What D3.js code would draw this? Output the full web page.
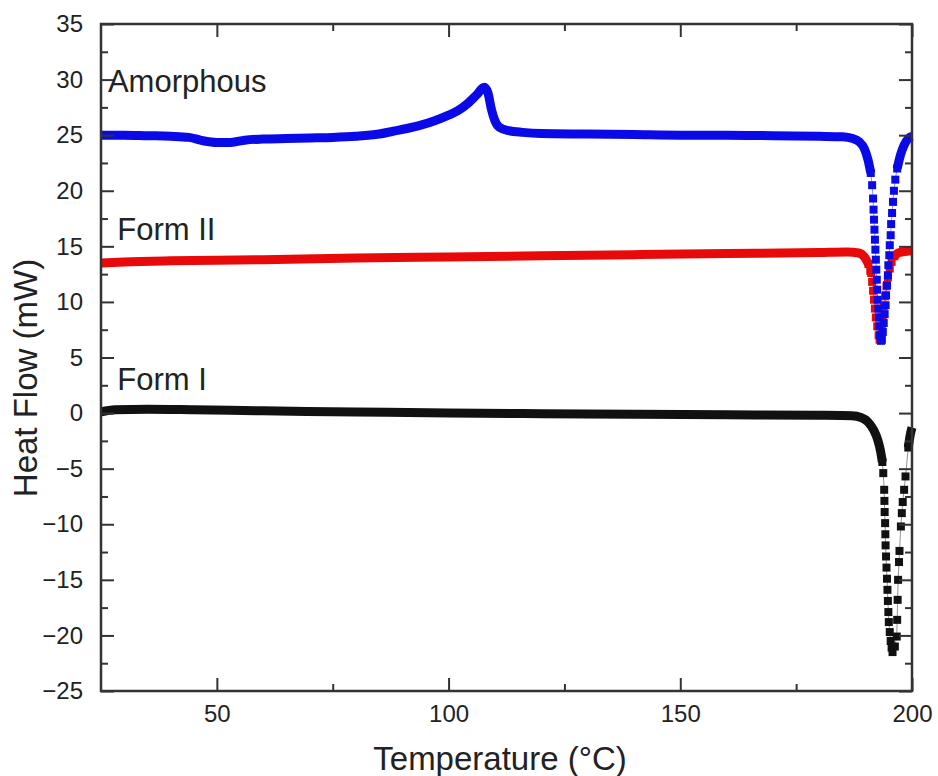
<!DOCTYPE html>
<html>
<head>
<meta charset="utf-8">
<script src="https://cdn.jsdelivr.net/npm/d3@7"></script>
<style>
  body { margin: 0; background: #fff; }
  text { font-family: "Liberation Sans", Arial, sans-serif; }
</style>
</head>
<body>
<div id="chart"></div>
<script>
// x ticks / y ticks
var xTicks = [50, 100, 150, 200];
var xMinorTicks = [75, 125, 175];
var yTicks = [35, 30, 25, 20, 15, 10, 5, 0, -5, -10, -15, -20, -25];

// Amorphous: smooth part (null = gap where the peak points are)
var amorphousTemp = [25, 30, 35, 40, 44, 47, 50, 53, 56, 60, 65, 70, 75, 80, 85, 88, 91, 94, 97, 100, 102, 104, 106, 107.7, 108.5, 109.2, 110, 111, 113, 116, 120, 130, 140, 150, 160, 170, 180, 185, 187.2, 188.6, 189.7, 190.5, 191.1, null, 196.8, 197.5, 198.3, 199.2, 200];
var amorphousFlow = [25.0, 25.0, 24.95, 24.9, 24.8, 24.5, 24.35, 24.35, 24.55, 24.65, 24.7, 24.75, 24.8, 24.9, 25.1, 25.35, 25.6, 25.9, 26.3, 26.8, 27.2, 27.8, 28.6, 29.3, 28.8, 27.4, 26.3, 25.7, 25.4, 25.25, 25.15, 25.1, 25.05, 25.0, 25.0, 24.95, 24.9, 24.85, 24.7, 24.4, 23.8, 22.8, 21.6, null, 22.0, 23.2, 24.1, 24.7, 24.9];
// Amorphous: single points through the melting dip
var amorphousDipTemp = [191.1, 191.4, 191.6, 191.7, 191.8, 191.9, 192.0, 192.1, 192.2, 192.3, 192.4, 192.5, 192.6, 192.75, 192.85, 192.95, 193.1, 193.3, 193.5, 193.7, 193.9, 194.1, 194.3, 194.4, 194.6, 194.8, 194.9, 195.1, 195.2, 195.4, 195.5, 195.7, 195.9, 196.1, 196.4, 196.8];
var amorphousDipFlow = [21.6, 20.5, 19.3, 18.3, 17.4, 16.5, 15.6, 14.7, 13.8, 12.9, 12.0, 11.1, 10.2, 9.4, 8.6, 7.8, 7.0, 6.5, 6.6, 7.3, 8.1, 8.9, 9.7, 10.6, 11.5, 12.4, 13.3, 14.2, 15.1, 16.0, 17.0, 18.0, 19.0, 20.0, 21.0, 22.0];

// Form II
var form2Temp = [25, 30, 40, 50, 60, 80, 100, 120, 140, 160, 180, 186, 188.5, 189.8, 190.6, null, 196.2, 197, 198, 200];
var form2Flow = [13.5, 13.6, 13.7, 13.75, 13.8, 13.95, 14.05, 14.15, 14.25, 14.35, 14.45, 14.5, 14.4, 14.0, 13.4, null, 14.1, 14.4, 14.5, 14.6];
var form2DipTemp = [190.6, 191.0, 191.2, 191.4, 191.6, 191.8, 192.0, 192.2, 192.5, 192.8, 193.0, 193.3, 193.5, 193.7, 193.9, 194.2, 194.5, 194.8, 195.2, 195.6, 196.2];
var form2DipFlow = [13.4, 12.8, 12.6, 11.8, 11.0, 10.2, 9.4, 8.6, 7.8, 7.0, 6.6, 7.0, 7.8, 8.7, 9.6, 10.5, 11.4, 12.2, 13.0, 13.6, 14.1];

// Form I
var form1Temp = [25, 28, 35, 45, 60, 80, 100, 120, 140, 160, 180, 187, 189, 190.5, 191.7, 192.6, 193.2, 193.6, null, 199.2, 199.6, 200];
var form1Flow = [0.1, 0.3, 0.35, 0.3, 0.2, 0.1, 0.0, -0.05, -0.1, -0.15, -0.2, -0.25, -0.4, -0.8, -1.5, -2.4, -3.4, -4.4, null, -3.1, -2.0, -1.3];
var form1DipTemp = [193.6, 193.8, 194.0, 194.05, 194.1, 194.2, 194.25, 194.3, 194.4, 194.5, 194.6, 194.7, 194.8, 194.9, 195.0, 195.2, 195.4, 195.6, 195.8, 196.3, 196.7, 196.8, 196.9, 197.0, 197.2, 197.3, 197.6, 197.8, 198.0, 198.3, 198.6, 199.2];
var form1DipFlow = [-4.4, -5.4, -6.9, -7.9, -8.9, -9.9, -10.9, -11.9, -12.9, -13.9, -14.9, -15.9, -16.9, -17.9, -18.8, -19.7, -20.5, -21.1, -21.5, -21.0, -20.1, -18.6, -16.8, -15.0, -13.4, -12.4, -10.2, -9.0, -8.0, -6.9, -5.7, -3.1];

var seriesNames = ["Form I", "Form II", "Amorphous"];
var seriesColors = ["#111111", "#e80a0a", "#0a0ae8"];

var svgWidth = 938;
var svgHeight = 776;
var margin = { top: 24, right: 26, bottom: 85, left: 101 };
var width = svgWidth - margin.left - margin.right;
var height = svgHeight - margin.top - margin.bottom;

var svg = d3.select("#chart")
  .append("svg")
  .attr("width", svgWidth)
  .attr("height", svgHeight)
  .style("background", "#fff");

var chartGroup = svg.append("g")
  .attr("transform", `translate(${margin.left}, ${margin.top})`);

// scales
var xScale = d3.scaleLinear().domain([25, 200]).range([0, width]);
var yScale = d3.scaleLinear().domain([-25, 35]).range([height, 0]);

// build series from the arrays
function zip(t, v) {
  return t.map(function (d, i) { return { t: d, v: v[i] }; });
}
var series = [
  { trace: zip(form1Temp, form1Flow), dip: zip(form1DipTemp, form1DipFlow) },
  { trace: zip(form2Temp, form2Flow), dip: zip(form2DipTemp, form2DipFlow) },
  { trace: zip(amorphousTemp, amorphousFlow), dip: zip(amorphousDipTemp, amorphousDipFlow) }
];

var traceLine = d3.line()
  .defined(d => d.t !== null)
  .x(d => xScale(d.t))
  .y(d => yScale(d.v))
  .curve(d3.curveMonotoneX);

var thinLine = d3.line()
  .x(d => xScale(d.t))
  .y(d => yScale(d.v));

// draw curves: Form I first, amorphous on top
series.forEach(function (s, i) {
  var color = seriesColors[i];
  chartGroup.append("path")
    .attr("d", thinLine(s.dip))
    .attr("fill", "none")
    .attr("stroke", color)
    .attr("stroke-width", 1)
    .attr("stroke-opacity", 0.45);

  chartGroup.append("path")
    .attr("d", traceLine(s.trace))
    .attr("fill", "none")
    .attr("stroke", color)
    .attr("stroke-width", 9)
    .attr("stroke-linejoin", "round");

  chartGroup.selectAll(null)
    .data(s.dip)
    .enter()
    .append("rect")
    .attr("x", d => xScale(d.t) - 4)
    .attr("y", d => yScale(d.v) - 4)
    .attr("width", 8)
    .attr("height", 8)
    .attr("fill", color);
});

// axes, ticks pointing inside on all four sides
var axisColor = "#333";
function styleAxis(g) {
  g.select(".domain").remove();
  g.selectAll("line").attr("stroke", axisColor).attr("stroke-width", 2);
  g.selectAll("text")
    .attr("fill", "#222")
    .style("font-size", "24px")
    .style("font-family", "'Liberation Sans', Arial, sans-serif");
}

var xAxis = d3.axisBottom(xScale).tickValues(xTicks).tickSize(-13).tickPadding(14);
var xMinor = d3.axisBottom(xScale).tickValues(xMinorTicks).tickSize(-7).tickFormat("");
var yAxis = d3.axisLeft(yScale).tickValues(yTicks).tickSize(-13).tickPadding(18);
var yMinor = d3.axisLeft(yScale).tickValues(d3.range(-22.5, 35, 5)).tickSize(-7).tickFormat("");

chartGroup.append("g").attr("transform", `translate(0, ${height})`).call(xAxis).call(styleAxis);
chartGroup.append("g").attr("transform", `translate(0, ${height})`).call(xMinor).call(styleAxis);
chartGroup.append("g").call(d3.axisTop(xScale).tickValues(xTicks).tickSize(-13).tickFormat("")).call(styleAxis);
chartGroup.append("g").call(d3.axisTop(xScale).tickValues(xMinorTicks).tickSize(-7).tickFormat("")).call(styleAxis);
chartGroup.append("g").call(yAxis).call(styleAxis);
chartGroup.append("g").call(yMinor).call(styleAxis);
chartGroup.append("g").attr("transform", `translate(${width}, 0)`)
  .call(d3.axisRight(yScale).tickValues(yTicks).tickSize(-13).tickFormat("")).call(styleAxis);
chartGroup.append("g").attr("transform", `translate(${width}, 0)`)
  .call(d3.axisRight(yScale).tickValues(d3.range(-22.5, 35, 5)).tickSize(-7).tickFormat("")).call(styleAxis);

// frame
chartGroup.append("rect")
  .attr("width", width)
  .attr("height", height)
  .attr("fill", "none")
  .attr("stroke", axisColor)
  .attr("stroke-width", 2.5);

// series labels (temperature, heat flow at the text baseline)
var labelPos = [[28.5, 2.1], [28.5, 15.6], [26.5, 28.9]];
seriesNames.forEach(function (name, i) {
  chartGroup.append("text")
    .attr("x", xScale(labelPos[i][0]))
    .attr("y", yScale(labelPos[i][1]))
    .attr("fill", "#222")
    .style("font-size", "31px")
    .text(name);
});

// axis titles
svg.append("text")
  .attr("x", 500)
  .attr("y", 770)
  .attr("text-anchor", "middle")
  .attr("fill", "#222")
  .style("font-size", "33px")
  .text("Temperature (°C)");

svg.append("text")
  .attr("transform", "translate(37, 378) rotate(-90)")
  .attr("text-anchor", "middle")
  .attr("fill", "#222")
  .style("font-size", "33px")
  .text("Heat Flow (mW)");
</script>
</body>
</html>
